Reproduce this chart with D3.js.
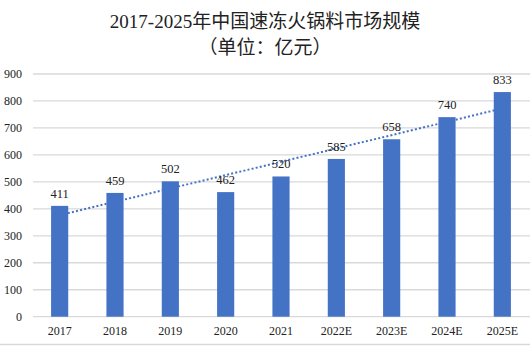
<!DOCTYPE html>
<html>
<head>
<meta charset="utf-8">
<script src="https://cdn.jsdelivr.net/npm/d3@7"></script>
<style>
  html, body { margin: 0; padding: 0; background: #fff; }
  svg { display: block; }
  text { font-family: "Liberation Serif", "Times New Roman", "Noto Sans CJK SC", serif; fill: #222; }
</style>
</head>
<body>
<script>
// Market size of quick-frozen hotpot ingredients in China, 2017-2025 (100 million yuan)
const categories = ["2017", "2018", "2019", "2020", "2021", "2022E", "2023E", "2024E", "2025E"];
const marketSize = [411, 459, 502, 462, 520, 585, 658, 740, 833];
const yTicks = [0, 100, 200, 300, 400, 500, 600, 700, 800, 900];
const titleLines = ["2017-2025年中国速冻火锅料市场规模", "（单位：亿元）"];

const W = 530, H = 346;
const margin = { left: 32, right: 0, top: 74, bottom: 29.3 };
const barColor = "#4472C4";

const svg = d3.select("body").append("svg").attr("width", W).attr("height", H);

const x = d3.scaleBand()
  .domain(categories)
  .range([margin.left, W - margin.right])
  .paddingInner(0.69)
  .paddingOuter(0.345);

const y = d3.scaleLinear()
  .domain([0, 900])
  .range([H - margin.bottom, margin.top]);

// Title
svg.append("g").selectAll("text")
  .data(titleLines)
  .join("text")
  .attr("x", 265)
  .attr("y", (d, i) => i === 0 ? 28 : 54)
  .attr("text-anchor", "middle")
  .style("font-size", "19px")
  .text(d => d);

// Horizontal gridlines
svg.append("g").selectAll("line")
  .data(yTicks)
  .join("line")
  .attr("x1", margin.left + 1)
  .attr("x2", W)
  .attr("y1", d => y(d))
  .attr("y2", d => y(d))
  .attr("stroke", "#d9d9d9")
  .attr("stroke-width", 1.3);

// Y axis labels
const yAxis = d3.axisLeft(y).tickValues(yTicks).tickSize(0).tickPadding(0);
svg.append("g")
  .attr("transform", `translate(22,0)`)
  .call(yAxis)
  .call(g => g.select(".domain").remove())
  .call(g => g.selectAll("text")
    .style("font-family", "Liberation Serif, serif")
    .style("font-size", "12px")
    .attr("fill", "#222"));

// X axis labels
const xAxis = d3.axisBottom(x).tickSize(0).tickPadding(0);
svg.append("g")
  .attr("transform", `translate(0,${y(0) + 10})`)
  .call(xAxis)
  .call(g => g.select(".domain").remove())
  .call(g => g.selectAll("text")
    .style("font-family", "Liberation Serif, serif")
    .style("font-size", "12px")
    .attr("fill", "#222"));

// Linear trendline (least squares over category index), drawn behind the bars
const n = marketSize.length;
const idx = d3.range(1, n + 1);
const mx = d3.mean(idx), my = d3.mean(marketSize);
const slope = d3.sum(idx, (t, i) => (t - mx) * (marketSize[i] - my)) / d3.sum(idx, t => (t - mx) ** 2);
const intercept = my - slope * mx;
const trend = [1, n].map(t => ({ cat: categories[t - 1], v: intercept + slope * t }));

svg.append("path")
  .datum(trend)
  .attr("d", d3.line().x(d => x(d.cat) + x.bandwidth() / 2).y(d => y(d.v)))
  .attr("fill", "none")
  .attr("stroke", barColor)
  .attr("stroke-width", 2)
  .attr("stroke-dasharray", "2 2.2");

// Bars
svg.append("g").selectAll("rect")
  .data(marketSize)
  .join("rect")
  .attr("x", (d, i) => x(categories[i]))
  .attr("y", d => y(d))
  .attr("width", x.bandwidth())
  .attr("height", d => y(0) - y(d))
  .attr("fill", barColor);

// Value labels
svg.append("g").selectAll("text")
  .data(marketSize)
  .join("text")
  .attr("x", (d, i) => x(categories[i]) + x.bandwidth() / 2)
  .attr("y", d => y(d) - 8)
  .attr("text-anchor", "middle")
  .style("font-size", "12.5px")
  .text(d => d);

// Bottom border line
svg.append("line")
  .attr("x1", 0).attr("x2", W)
  .attr("y1", H - 1.5).attr("y2", H - 1.5)
  .attr("stroke", "#d9d9d9")
  .attr("stroke-width", 1.5);
</script>
</body>
</html>
